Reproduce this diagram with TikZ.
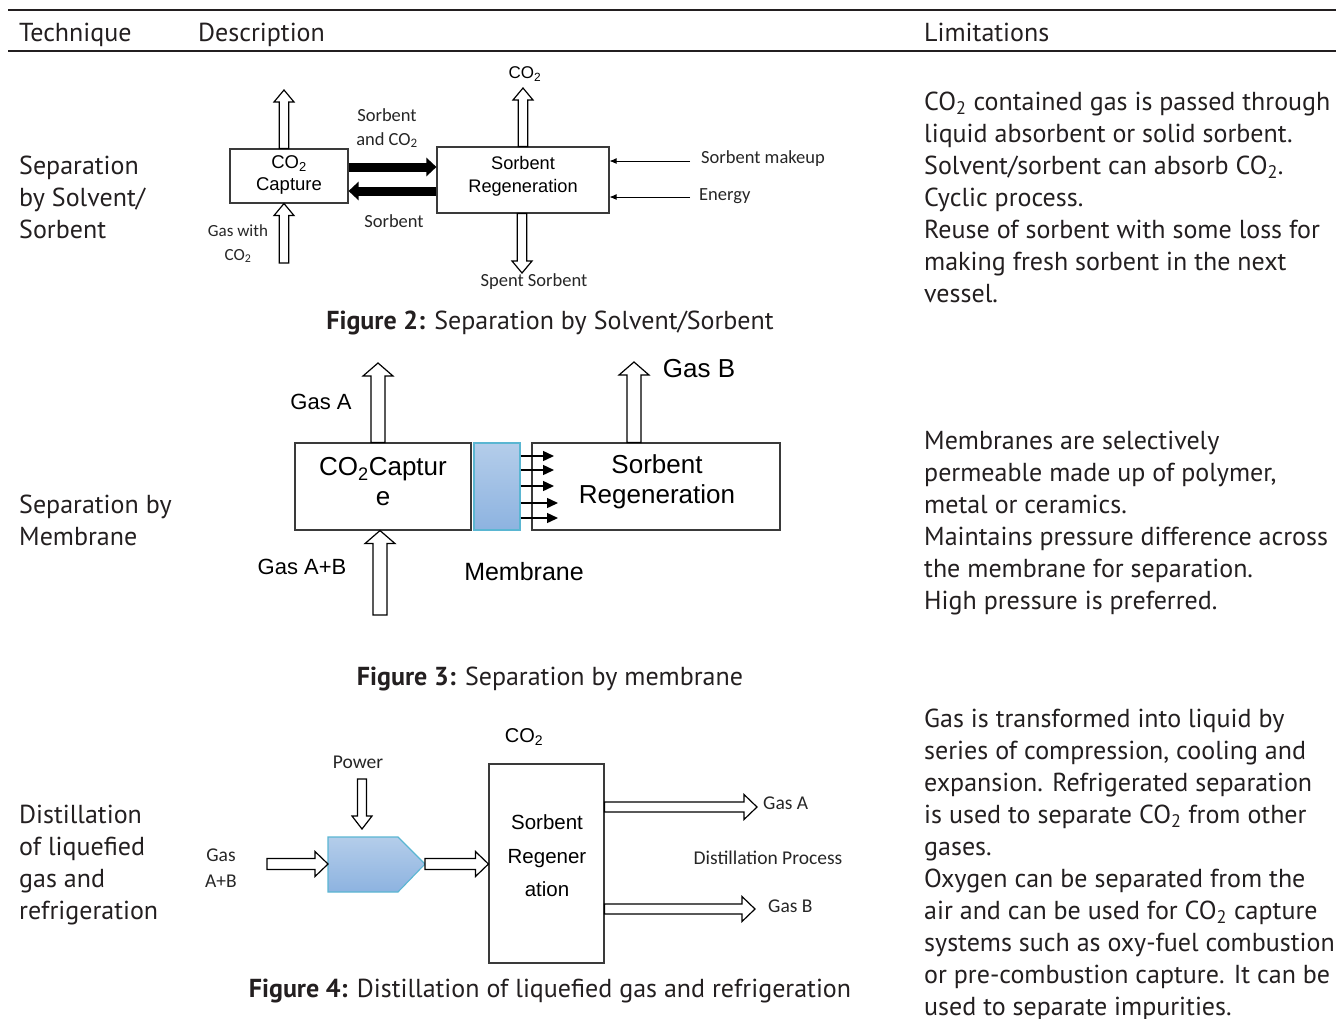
\documentclass[tikz,border=0pt]{standalone}
\usepackage{fontspec}
\setmainfont{PT Sans}
\newfontfamily\arialf{Liberation Sans}
\newfontfamily\calf{Carlito}
\usetikzlibrary{arrows.meta,calc}

\definecolor{txt}{HTML}{231F20}
\definecolor{ink}{HTML}{3A3A3A}
\definecolor{memtop}{HTML}{B4CDEA}
\definecolor{membot}{HTML}{8DB3E0}
\definecolor{memedge}{HTML}{5AB6D2}

% hollow block arrow: from, to, shaft half width, head half width, head length (pt)
\newcommand\blockarrow[5]{%
  \path let \p1=(#1), \p2=(#2) in \pgfextra{%
    \pgfmathsetmacro\arlen{veclen(\x2-\x1,\y2-\y1)}%
    \pgfmathsetmacro\arang{atan2(\y2-\y1,\x2-\x1)}%
    \xdef\arlen{\arlen}\xdef\arang{\arang}%
    \xdef\arx{\x1}\xdef\ary{\y1}};
  \draw[hollow, shift={(\arx,\ary)}, rotate=\arang]
    (0pt,-#3pt) -- ({\arlen pt-#5pt},-#3pt) -- ({\arlen pt-#5pt},-#4pt)
    -- (\arlen pt,0pt) -- ({\arlen pt-#5pt},#4pt) -- ({\arlen pt-#5pt},#3pt)
    -- (0pt,#3pt) -- cycle;
}

% one node per text line, 32pt apart
\newcommand\textlines[4]{%
  \foreach \t [count=\i from 0] in {#4} {
    \node[tabtext, anchor=base west] (#1-\i) at (#2, {#3+32*\i}) {\t};
  }}

\begin{document}
\begin{tikzpicture}[x=1pt, y=-1pt,
  tabtext/.style={font=\fontsize{26}{32}\selectfont, text=txt, inner sep=0pt},
  caption/.style={font=\fontsize{26}{32}\selectfont, text=txt, inner sep=0pt, anchor=base},
  rule/.style={draw=txt, line width=1.5pt},
  box/.style={draw=ink, line width=1.1pt, rectangle, inner sep=0pt},
  hollow/.style={draw=black, line width=1.2pt, fill=white, line join=miter},
  ariallab/.style={font=\arialf\fontsize{#1}{#1}\selectfont, text=black, inner sep=0pt},
  callab/.style={font=\calf\fontsize{#1}{#1}\selectfont, text=black!85, inner sep=0pt},
  fatarrow/.style={draw=black, line width=9pt, -{Triangle[length=10pt,width=18pt]}},
  thinarrow/.style={draw=black, line width=0.9pt, -{Latex[length=7pt,width=6pt]}},
  permeate/.style={draw=black, line width=1.4pt, -{Triangle[length=11pt,width=10pt]}},
]
\useasboundingbox (0,0) rectangle (1336,1018);

% table rules
\draw[rule] (8,10) coordinate (ruleA) -- (1336,10) coordinate (ruleB);
\draw[rule] (8,51) coordinate (ruleC) -- (1336,51) coordinate (ruleD);

% header
\node[tabtext, anchor=base west] (hTech) at (19,41) {Technique};
\node[tabtext, anchor=base west] (hDesc) at (198,41) {Description};
\node[tabtext, anchor=base west] (hLim) at (924,41) {Limitations};

% technique column
\textlines{techA}{19}{174}{Separation, by Solvent/, Sorbent}
\textlines{techB}{19}{513}{Separation by, Membrane}
\textlines{techC}{19}{823}{Distillation, of liquefied, gas and, refrigeration}

% limitations column
\textlines{limA}{924}{110}{{CO\textsubscript{2} contained gas is passed through},
  liquid absorbent or solid sorbent.,
  {Solvent/sorbent can absorb CO\textsubscript{2}.},
  Cyclic process.,
  Reuse of sorbent with some loss for,
  making fresh sorbent in the next,
  vessel.}
\textlines{limB}{924}{449}{Membranes are selectively,
  {permeable made up of polymer,},
  metal or ceramics.,
  Maintains pressure difference across,
  the membrane for separation.,
  High pressure is preferred.}
\textlines{limC}{924}{727}{Gas is transformed into liquid by,
  {series of compression, cooling and},
  expansion. Refrigerated separation,
  {is used to separate CO\textsubscript{2} from other},
  gases.,
  Oxygen can be separated from the,
  {air and can be used for CO\textsubscript{2} capture},
  systems such as oxy-fuel combustion,
  or pre-combustion capture. It can be,
  used to separate impurities.}

% ---------- solvent / sorbent loop ----------
\node[box, minimum width=118pt, minimum height=54pt] (cap) at (289,176) {};
\node[box, minimum width=172pt, minimum height=66pt] (reg) at (523,180) {};
\node[ariallab=18.5, align=center] (capT) at (289,175) {CO\textsubscript{2}\\[3pt]Capture};
\node[ariallab=18.2, align=center] (regT) at (523,176) {Sorbent\\[5pt]Regeneration};

\coordinate (capOut) at (284,90);
\coordinate (capIn) at (284,263);
\coordinate (regOut) at (523,88);
\coordinate (regSpent) at (522,273);
\blockarrow{cap.north -| capOut}{capOut}{4.7}{10}{12}
\blockarrow{capIn}{cap.south -| capIn}{4.7}{10}{12}
\blockarrow{reg.north -| regOut}{regOut}{4.7}{10}{12}
\blockarrow{reg.south -| regSpent}{regSpent}{4.7}{10}{12}

\coordinate (loopTop) at (0,167);
\coordinate (loopBot) at (0,191);
\draw[fatarrow] (cap.east |- loopTop) -- (reg.west |- loopTop);
\draw[fatarrow] (reg.west |- loopBot) -- (cap.east |- loopBot);

\coordinate (mkStart) at (690,161);
\coordinate (enStart) at (690,197);
\draw[thinarrow] (mkStart) -- (reg.east |- mkStart);
\draw[thinarrow] (enStart) -- (reg.east |- enStart);

\node[callab=18.5] (lSorbCO) at (387,115) {Sorbent};
\node[callab=18.5] (lAndCO) at (387,140) {and CO\textsubscript{2}};
\node[callab=18.5] (lSorb) at (394,221) {Sorbent};
\node[callab=17] (lGasWith) at (238,231) {Gas with};
\node[callab=17] (lGasCO) at (238,256) {CO\textsubscript{2}};
\node[ariallab=17] (lCOtop) at (525,74) {CO\textsubscript{2}};
\node[callab=18.5] (lSpent) at (534,282) {Spent Sorbent};
\node[callab=18.5, anchor=west] (lMakeup) at (701,159) {Sorbent makeup};
\node[callab=18.5, anchor=west] (lEnergy) at (699,196) {Energy};

\node[caption] (cap2) at (550,329) {\textbf{Figure 2:} Separation by Solvent/Sorbent};

% ---------- membrane ----------
\node[box, minimum width=176pt, minimum height=87pt] (mcap) at (383,486.5) {};
\node[draw=memedge, line width=1.1pt, top color=memtop, bottom color=membot,
      minimum width=46pt, minimum height=87pt, inner sep=0pt] (mem) at (497,486.5) {};
\node[box, minimum width=248pt, minimum height=87pt] (mreg) at (656,486.5) {};
\node[ariallab=26, align=center] (mcapT) at (383,482) {CO\textsubscript{2}Captur\\[4pt]e};
\node[ariallab=26, align=center] (mregT) at (657,482) {Sorbent\\[4pt]Regeneration};

\foreach \yy/\xe [count=\k] in {456/554, 470/554, 486/554, 503/558, 518/558} {
  \coordinate (pe\k) at (\xe,\yy);
  \draw[permeate] (mem.east |- pe\k) -- (pe\k);
}

\coordinate (mGasA) at (378,363);
\coordinate (mGasB) at (634,362);
\coordinate (mFeed) at (380,615);
\blockarrow{mcap.north -| mGasA}{mGasA}{7}{15}{13}
\blockarrow{mreg.north -| mGasB}{mGasB}{7}{15}{13}
\blockarrow{mFeed}{mcap.south -| mFeed}{7}{15}{13}

\node[ariallab=22] (lmA) at (321,402) {Gas A};
\node[ariallab=26] (lmB) at (699,369) {Gas B};
\node[ariallab=22] (lmAB) at (302,567) {Gas A+B};
\node[ariallab=25] (lmMem) at (524,572) {Membrane};

\node[caption] (cap3) at (550,685) {\textbf{Figure 3:} Separation by membrane};

% ---------- liquefaction / distillation ----------
\coordinate (pentW) at (328,864);
\coordinate (pentE) at (425,864);
\path[draw=memedge, line width=1.1pt, top color=memtop, bottom color=membot]
  (328,837) -- (398,837) -- (pentE) -- (398,892) -- (328,892) -- cycle;

\node[box, minimum width=115pt, minimum height=199pt] (dbox) at (546.5,863.5) {};
\node[ariallab=20.5, align=center] (dboxT) at (547,856) {Sorbent\\[13pt]Regener\\[13pt]ation};

\coordinate (pwrStart) at (362,779);
\coordinate (pwrTip) at (362,829);
\coordinate (feedStart) at (267,864);
\blockarrow{pwrStart}{pwrTip}{4.5}{10}{13}
\blockarrow{feedStart}{pentW}{5.5}{12.5}{13}
\blockarrow{pentE}{dbox.west |- pentE}{5.5}{12.5}{13}

\coordinate (dGasA) at (757,807);
\coordinate (dGasB) at (755,909);
\blockarrow{dbox.east |- dGasA}{dGasA}{5}{12.5}{13}
\blockarrow{dbox.east |- dGasB}{dGasB}{5}{12.5}{13}

\node[callab=19.5] (lPower) at (358,762) {Power};
\node[callab=19.5] (lGas) at (221,855) {Gas};
\node[callab=19.5] (lAB) at (221,881) {A+B};
\node[ariallab=20] (lCO4) at (524,737) {CO\textsubscript{2}};
\node[callab=19.5, anchor=west] (lGA) at (763,803) {Gas A};
\node[callab=19.5, anchor=west] (lGB) at (768,906) {Gas B};
\node[callab=19.5] (lDist) at (768,858) {Distillation Process};

\node[caption] (cap4) at (550,997) {\textbf{Figure 4:} Distillation of liquefied gas and refrigeration};
\end{tikzpicture}
\end{document}
